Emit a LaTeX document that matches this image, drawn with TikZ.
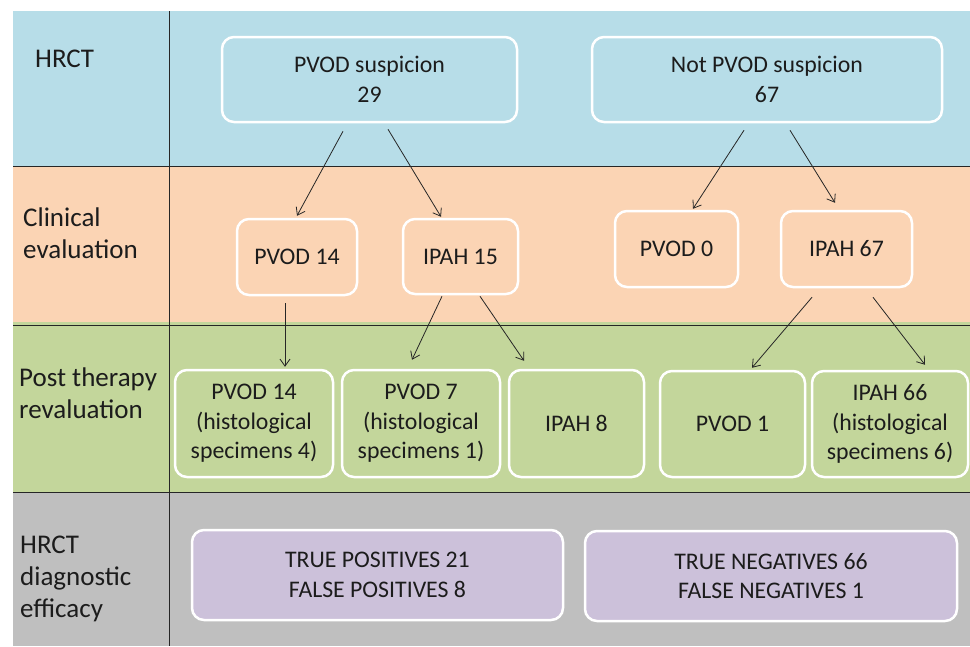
\documentclass[tikz,border=0pt]{standalone}
\usepackage{fontspec}
\setmainfont{Carlito}
\usetikzlibrary{calc,arrows.meta}
\definecolor{bandblue}{HTML}{B7DDE8}
\definecolor{bandorange}{HTML}{FBD4B4}
\definecolor{bandgreen}{HTML}{C3D69B}
\definecolor{bandgray}{HTML}{BFBFBF}
\definecolor{boxpurple}{HTML}{CCC1DA}
\definecolor{ink}{HTML}{1C1C1C}
\definecolor{rule}{HTML}{262626}
\tikzset{
  flowbox/.style={draw=white, line width=2.5pt, rounded corners=12pt, align=center,
    text=ink, inner sep=0pt, font=\fontsize{23.8}{29.5}\selectfont},
  diagbox/.style={flowbox, fill=boxpurple},
  rowlabel/.style={anchor=west, align=left, inner sep=0pt, text=ink,
    font=\fontsize{27}{32}\selectfont},
  arr/.style={draw=rule, line width=0.8pt, -{Straight Barb[length=7pt,width=10pt]}},
  divider/.style={draw=rule, line width=1pt}
}
\begin{document}
\begin{tikzpicture}[x=1pt,y=-1pt]
\useasboundingbox (0,0) rectangle (970,646);
% bands
\fill[bandblue]   (13,11)  rectangle (970,166);
\fill[bandorange] (13,166) rectangle (970,322);
\fill[bandgreen]  (13,322) rectangle (970,492);
\fill[bandgray]   (13,492) rectangle (970,646);
\draw[divider] (13,166) -- (970,166);
\draw[divider] (13,325) -- (970,325);
\draw[divider] (13,492) -- (970,492);
\draw[divider] (169,11) -- (169,646);
% row labels
\node[rowlabel] (l1) at (35,59) {HRCT};
\node[rowlabel] (l2) at (23,233) {Clinical\\evaluation};
\node[rowlabel] (l3) at (19,393) {Post therapy\\revaluation};
\node[rowlabel] (l4) at (20,579) {HRCT\\diagnostic\\efficacy};
% HRCT row
\node[flowbox, minimum width=295pt, minimum height=85pt] (s1) at (369.5,79.5) {PVOD suspicion\\29};
\node[flowbox, minimum width=350pt, minimum height=85pt] (s2) at (767,79.5) {Not PVOD suspicion\\67};
% Clinical row
\node[flowbox, minimum width=120pt, minimum height=76pt] (c1) at (297,257) {PVOD 14};
\node[flowbox, minimum width=115pt, minimum height=75pt] (c2) at (460.5,256.5) {IPAH 15};
\node[flowbox, minimum width=123pt, minimum height=76pt] (c3) at (676.5,249) {PVOD 0};
\node[flowbox, minimum width=131pt, minimum height=76pt] (c4) at (846.5,249) {IPAH 67};
% Post therapy row
\node[flowbox, minimum width=158pt, minimum height=107pt] (p1) at (254,423.5) {PVOD 14\\(histological\\specimens 4)};
\node[flowbox, minimum width=158pt, minimum height=107pt] (p2) at (421,423.5) {PVOD 7\\(histological\\specimens 1)};
\node[flowbox, minimum width=135pt, minimum height=107pt] (p3) at (576.5,423.5) {IPAH 8};
\node[flowbox, minimum width=145pt, minimum height=106pt] (p4) at (732.5,424) {PVOD 1};
\node[flowbox, minimum width=156pt, minimum height=106pt] (p5) at (890,424) {IPAH 66\\(histological\\specimens 6)};
% diagnostic row
\node[diagbox, minimum width=371pt, minimum height=90pt] (d1) at (377.5,575) {TRUE POSITIVES 21\\FALSE POSITIVES 8};
\node[diagbox, minimum width=372pt, minimum height=90pt] (d2) at (771,576) {TRUE NEGATIVES 66\\FALSE NEGATIVES 1};
% arrows
\draw[arr] ($(s1.south)+(-26.5,8)$) -- ($(c1.north)+(0,-2)$);
\draw[arr] ($(s1.south)+(18.5,6)$) -- ($(c2.north)+(-19.5,-1)$);
\draw[arr] ($(s2.south)+(-23,7)$) -- ($(c3.north)+(16.5,-1)$);
\draw[arr] ($(s2.south)+(23,7)$) -- ($(c4.north)+(-11.5,-7)$);
\draw[arr] ($(c1.south)+(-12,7)$) -- ($(p1.north)+(31,-2)$);
\draw[arr] ($(c2.south)+(-18.5,1)$) -- ($(p2.north)+(-9,-9)$);
\draw[arr] ($(c2.south)+(19.5,1)$) -- ($(p3.north)+(-52.5,-8)$);
\draw[arr] ($(c4.south)+(-34.5,9)$) -- ($(p4.north)+(19.5,-2)$);
\draw[arr] ($(c4.south)+(26.5,9)$) -- ($(p5.north)+(35,-5)$);
\end{tikzpicture}
\end{document}
